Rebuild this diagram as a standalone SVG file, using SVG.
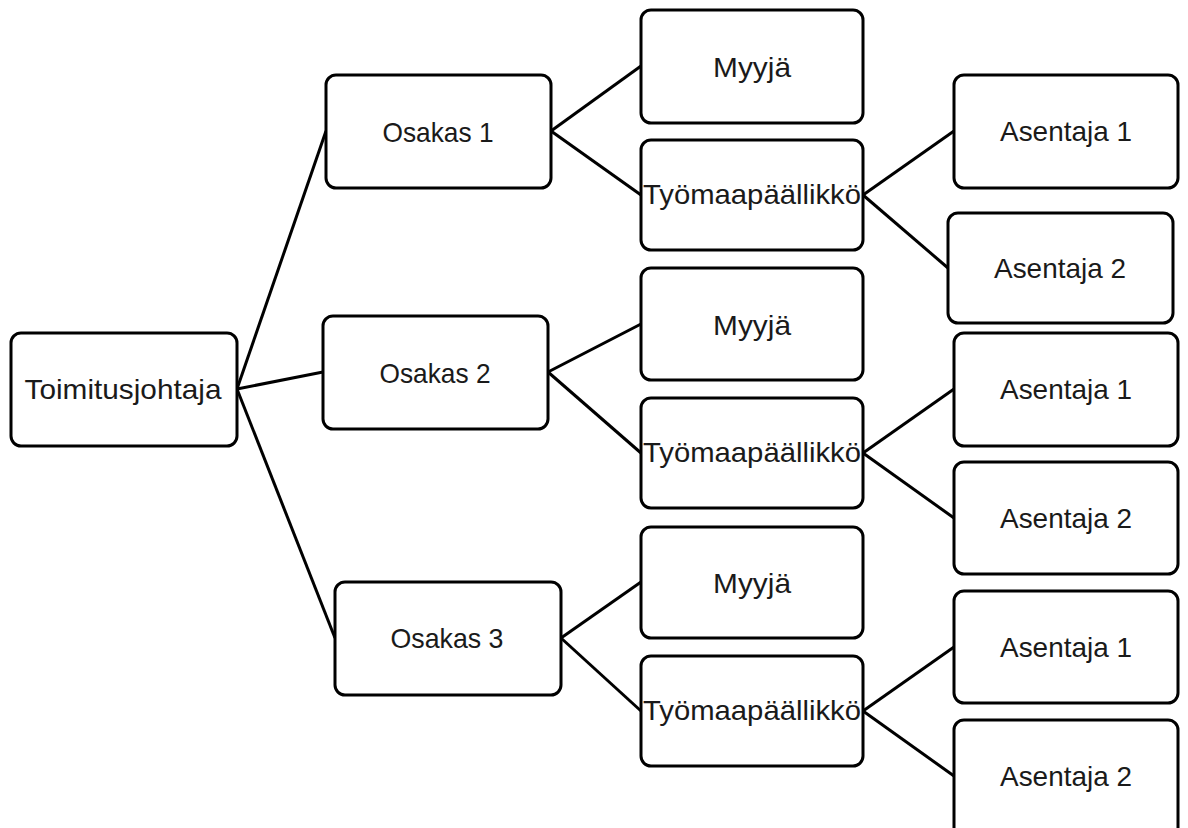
<svg xmlns="http://www.w3.org/2000/svg" width="1188" height="828" viewBox="0 0 1188 828">
<style>
.box{fill:#fff;stroke:#000;stroke-width:3}
.lbl{font-family:"Liberation Sans",Arial,sans-serif;font-size:28px;fill:#1a1a1a;text-anchor:middle}
.ln{stroke:#000;stroke-width:3;fill:none}
</style>
<rect width="1188" height="828" fill="#fff"/>
<g id="connectors">
<line class="ln" x1="237" y1="389" x2="326" y2="131"/>
<line class="ln" x1="237" y1="389" x2="323" y2="372"/>
<line class="ln" x1="237" y1="389" x2="335" y2="638"/>
<line class="ln" x1="551" y1="131" x2="641" y2="66"/>
<line class="ln" x1="551" y1="131" x2="641" y2="195"/>
<line class="ln" x1="548" y1="372" x2="641" y2="324"/>
<line class="ln" x1="548" y1="372" x2="641" y2="453"/>
<line class="ln" x1="561" y1="638" x2="641" y2="582"/>
<line class="ln" x1="561" y1="638" x2="641" y2="711"/>
<line class="ln" x1="863" y1="195" x2="954" y2="131"/>
<line class="ln" x1="863" y1="195" x2="948" y2="268"/>
<line class="ln" x1="863" y1="453" x2="954" y2="389"/>
<line class="ln" x1="863" y1="453" x2="954" y2="518"/>
<line class="ln" x1="863" y1="711" x2="954" y2="647"/>
<line class="ln" x1="863" y1="711" x2="954" y2="776"/>
</g>
<g id="toimitusjohtaja"><rect class="box" x="11" y="333" width="226" height="113" rx="10"/><text class="lbl" x="123" y="399" textLength="197" lengthAdjust="spacingAndGlyphs">Toimitusjohtaja</text></g>
<g id="osakas1"><rect class="box" x="326" y="75" width="225" height="113" rx="10"/><text class="lbl" x="438" y="142" textLength="111" lengthAdjust="spacingAndGlyphs">Osakas 1</text></g>
<g id="osakas2"><rect class="box" x="323" y="316" width="225" height="113" rx="10"/><text class="lbl" x="435" y="383" textLength="111" lengthAdjust="spacingAndGlyphs">Osakas 2</text></g>
<g id="osakas3"><rect class="box" x="335" y="582" width="226" height="113" rx="10"/><text class="lbl" x="447" y="648" textLength="113" lengthAdjust="spacingAndGlyphs">Osakas 3</text></g>
<g id="myyja1"><rect class="box" x="641" y="10" width="222" height="113" rx="10"/><text class="lbl" x="752" y="77" textLength="78" lengthAdjust="spacingAndGlyphs">Myyjä</text></g>
<g id="tyomaa1"><rect class="box" x="641" y="140" width="222" height="110" rx="10"/><text class="lbl" x="752" y="204" textLength="218" lengthAdjust="spacingAndGlyphs">Työmaapäällikkö</text></g>
<g id="myyja2"><rect class="box" x="641" y="268" width="222" height="112" rx="10"/><text class="lbl" x="752" y="335" textLength="78" lengthAdjust="spacingAndGlyphs">Myyjä</text></g>
<g id="tyomaa2"><rect class="box" x="641" y="398" width="222" height="110" rx="10"/><text class="lbl" x="752" y="462" textLength="218" lengthAdjust="spacingAndGlyphs">Työmaapäällikkö</text></g>
<g id="myyja3"><rect class="box" x="641" y="527" width="222" height="111" rx="10"/><text class="lbl" x="752" y="593" textLength="78" lengthAdjust="spacingAndGlyphs">Myyjä</text></g>
<g id="tyomaa3"><rect class="box" x="641" y="656" width="222" height="110" rx="10"/><text class="lbl" x="752" y="720" textLength="218" lengthAdjust="spacingAndGlyphs">Työmaapäällikkö</text></g>
<g id="asentaja1a"><rect class="box" x="954" y="75" width="224" height="113" rx="10"/><text class="lbl" x="1066" y="141" textLength="132" lengthAdjust="spacingAndGlyphs">Asentaja 1</text></g>
<g id="asentaja2a"><rect class="box" x="948" y="213" width="225" height="110" rx="10"/><text class="lbl" x="1060" y="278" textLength="132" lengthAdjust="spacingAndGlyphs">Asentaja 2</text></g>
<g id="asentaja1b"><rect class="box" x="954" y="333" width="224" height="113" rx="10"/><text class="lbl" x="1066" y="399" textLength="132" lengthAdjust="spacingAndGlyphs">Asentaja 1</text></g>
<g id="asentaja2b"><rect class="box" x="954" y="462" width="224" height="112" rx="10"/><text class="lbl" x="1066" y="528" textLength="132" lengthAdjust="spacingAndGlyphs">Asentaja 2</text></g>
<g id="asentaja1c"><rect class="box" x="954" y="591" width="224" height="112" rx="10"/><text class="lbl" x="1066" y="657" textLength="132" lengthAdjust="spacingAndGlyphs">Asentaja 1</text></g>
<g id="asentaja2c"><rect class="box" x="954" y="720" width="224" height="120" rx="10"/><text class="lbl" x="1066" y="786" textLength="132" lengthAdjust="spacingAndGlyphs">Asentaja 2</text></g>
</svg>
